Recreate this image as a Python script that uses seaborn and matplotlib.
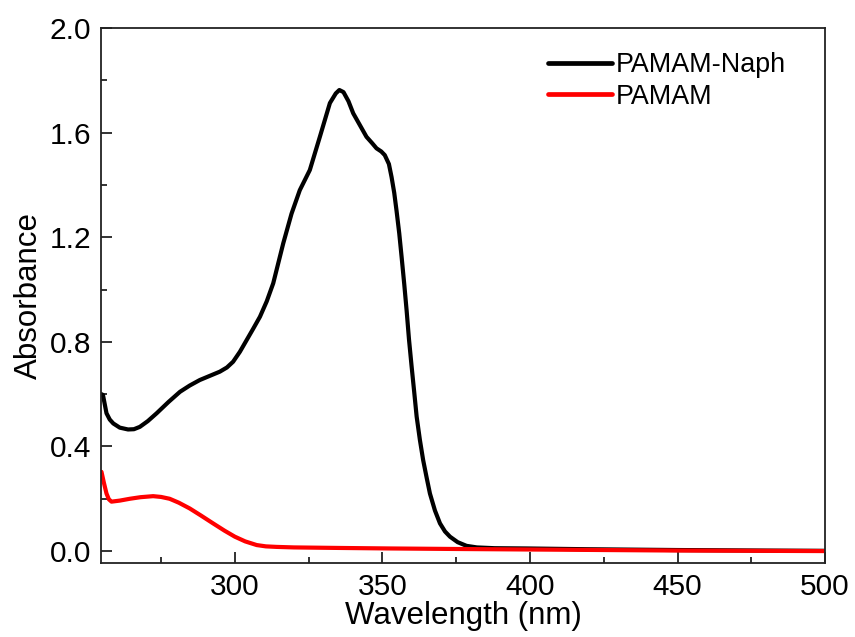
import numpy as np
import pandas as pd
import matplotlib
matplotlib.use("Agg")
import matplotlib.pyplot as plt
import seaborn as sns
from matplotlib.ticker import MultipleLocator, FormatStrFormatter

# Data
naph_wl = [254.8, 255.3, 256.5, 257.6, 258.8, 261.0, 263.8, 265.8, 267.8, 270.5,
           273.5, 277.5, 281.4, 284.7, 288.1, 291.5, 294.9, 297.3, 299.4, 301.7,
           304.0, 306.2, 308.5, 310.8, 313.0, 316.4, 319.2, 322.0, 325.4,
           328.8, 332.2, 334.2, 335.4, 336.8, 338.5, 340.1, 342.3, 344.6, 346.5,
           348.0, 349.6, 350.8, 352.2, 353.1, 354.0, 354.8, 355.7, 356.5, 357.4,
           358.2, 359.0, 359.9, 360.8, 361.6, 362.7, 363.8, 365.0, 366.1, 367.8,
           369.5, 371.2, 372.9, 375.5, 378.5, 382.0, 388.0, 398.9, 420.0, 450.0,
           480.0, 500.0]
naph_abs = [0.600, 0.597, 0.527, 0.503, 0.488, 0.472, 0.465, 0.466, 0.475, 0.497,
            0.527, 0.570, 0.609, 0.633, 0.654, 0.670, 0.686, 0.702, 0.724, 0.762,
            0.807, 0.850, 0.896, 0.955, 1.024, 1.177, 1.290, 1.380, 1.457,
            1.584, 1.713, 1.750, 1.763, 1.755, 1.720, 1.674, 1.630, 1.584, 1.560,
            1.540, 1.528, 1.514, 1.480, 1.430, 1.370, 1.300, 1.215, 1.125, 1.020,
            0.920, 0.810, 0.705, 0.605, 0.514, 0.425, 0.348, 0.280, 0.220, 0.155,
            0.106, 0.075, 0.055, 0.034, 0.020, 0.014, 0.011, 0.010, 0.007, 0.004,
            0.002, 0.001]

pamam_wl = [254.8, 255.6, 256.5, 257.3, 258.2, 261.0, 264.4, 268.0, 272.3, 275.0,
            277.9, 281.0, 284.7, 288.5, 292.6, 296.5, 300.0, 303.5, 307.4, 310.5,
            314.1, 320.0, 335.0, 352.5, 375.0, 400.0, 425.0, 450.0, 475.0, 500.0]
pamam_abs = [0.303, 0.262, 0.220, 0.198, 0.189, 0.193, 0.200, 0.206, 0.210, 0.207,
             0.200, 0.185, 0.163, 0.136, 0.106, 0.078, 0.055, 0.037, 0.023, 0.018,
             0.016, 0.014, 0.012, 0.010, 0.008, 0.006, 0.004, 0.002, 0.001, 0.000]

series_names = ["PAMAM-Naph", "PAMAM"]
series_colors = ["#000000", "#ff0000"]

df = pd.concat([
    pd.DataFrame({"Wavelength": naph_wl, "Absorbance": naph_abs, "Sample": series_names[0]}),
    pd.DataFrame({"Wavelength": pamam_wl, "Absorbance": pamam_abs, "Sample": series_names[1]}),
], ignore_index=True)

sns.set_style("ticks")
plt.rcParams['font.family'] = ['Liberation Sans', 'DejaVu Sans']
plt.rcParams['text.color'] = 'black'
plt.rcParams['axes.labelcolor'] = 'black'

fig = plt.figure(figsize=(8.55, 6.37), dpi=100)
ax = fig.add_axes([0.118, 0.116, 0.847, 0.840])

sns.lineplot(data=df, x="Wavelength", y="Absorbance", hue="Sample",
             palette=dict(zip(series_names, series_colors)), linewidth=3.0,
             sort=False, estimator=None, ax=ax)

ax.set_xlim(254.6, 500)
ax.set_ylim(-0.046, 2.0)
ax.xaxis.set_major_locator(MultipleLocator(50))
ax.xaxis.set_minor_locator(MultipleLocator(25))
ax.yaxis.set_major_locator(MultipleLocator(0.4))
ax.yaxis.set_minor_locator(MultipleLocator(0.2))
ax.yaxis.set_major_formatter(FormatStrFormatter('%.1f'))
ax.xaxis.set_major_formatter(FormatStrFormatter('%d'))

ax.tick_params(axis='both', which='major', direction='in', length=8, width=1.3,
               labelsize=21.5, colors='#222222', labelcolor='black', pad=7)
ax.tick_params(axis='both', which='minor', direction='in', length=4, width=1.3,
               colors='#222222')
ax.tick_params(top=False, right=False, which='both')

for sp in ax.spines.values():
    sp.set_linewidth(1.3)
    sp.set_color('#222222')

ax.set_xlabel("Wavelength (nm)", fontsize=22.5, labelpad=0)
ax.set_ylabel("Absorbance", fontsize=22.5, labelpad=4)

leg = ax.legend(loc='upper right', frameon=False, fontsize=19.4,
                handlelength=2.4, handletextpad=0.15, labelspacing=0.2,
                borderaxespad=0.5, bbox_to_anchor=(0.980, 1.0))
for line in leg.get_lines():
    line.set_linewidth(3.4)

fig.savefig("out.png", dpi=100)
